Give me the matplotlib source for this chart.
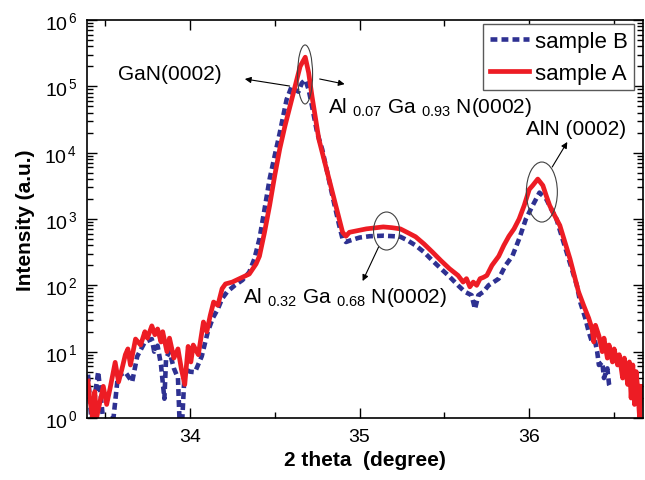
import matplotlib
matplotlib.use("Agg")
import matplotlib.pyplot as plt
from matplotlib.patches import Ellipse
from matplotlib.transforms import ScaledTranslation
from matplotlib.ticker import FixedLocator, LogLocator, NullFormatter, MultipleLocator

plt.rcParams['font.family'] = ['Liberation Sans', 'DejaVu Sans']
plt.rcParams['mathtext.fontset'] = 'custom'
plt.rcParams['mathtext.rm'] = 'Liberation Sans'
plt.rcParams['mathtext.it'] = 'Liberation Sans:italic'
plt.rcParams['mathtext.bf'] = 'Liberation Sans:bold'

# ---------------- data ----------------
x_A = [33.40, 33.41, 33.427, 33.44, 33.45, 33.49, 33.51, 33.53, 33.56, 33.58,
       33.60, 33.62, 33.635, 33.65, 33.68, 33.71, 33.735, 33.75, 33.776, 33.794,
       33.81, 33.83, 33.84, 33.865, 33.88, 33.906, 33.93, 33.95, 33.97, 33.99,
       34.006, 34.02, 34.05, 34.065, 34.08, 34.10, 34.12, 34.14, 34.165, 34.19,
       34.21, 34.25, 34.29, 34.35, 34.39, 34.41, 34.44, 34.47, 34.50, 34.53,
       34.56, 34.59, 34.62, 34.65, 34.68, 34.70, 34.72, 34.76, 34.80, 34.82,
       34.85, 34.88, 34.90, 34.92, 34.94, 34.98, 35.04, 35.10, 35.14, 35.19,
       35.24, 35.28, 35.33, 35.38, 35.43, 35.48, 35.53, 35.58, 35.61, 35.63,
       35.65, 35.67, 35.69, 35.71, 35.73, 35.75, 35.78, 35.82, 35.85, 35.88,
       35.91, 35.94, 35.97, 36.00, 36.02, 36.05, 36.08, 36.10, 36.12, 36.15,
       36.18, 36.21, 36.24, 36.27, 36.29, 36.32, 36.35, 36.37, 36.38, 36.39,
       36.41, 36.43, 36.44, 36.46, 36.47, 36.49, 36.50, 36.52, 36.53, 36.55,
       36.56, 36.58, 36.59, 36.60, 36.61, 36.62, 36.63, 36.64, 36.65, 36.66]
y_A = [3.6, 2.0, 1.0, 2.5, 1.0, 3.0, 1.6, 2.8, 6.9, 3.5,
       5.5, 9.0, 11.0, 6.3, 15.5, 12.6, 20.0, 16.0, 24.5, 18.0,
       22.0, 14.0, 20.0, 10.0, 16.0, 8.0, 11.0, 5.5, 3.2, 12.0,
       7.0, 12.6, 9.0, 16.0, 28.0, 20.0, 35.0, 56.0, 50.0, 89.0,
       105, 112, 125, 148, 210, 275, 630, 1600, 4500, 11500,
       25000, 50000, 100000, 200000, 275000, 160000, 70000, 16000, 6300, 4000,
       2000, 1000, 630, 550, 630, 660, 710, 740, 760, 740,
       710, 630, 540, 420, 316, 235, 178, 141, 112, 126,
       95, 112, 100, 126, 132, 141, 200, 275, 400, 550,
       710, 1000, 1600, 2800, 3200, 4000, 3200, 2240, 1600, 1120,
       800, 450, 250, 126, 80, 50, 32, 22, 14, 25,
       17.4, 10, 16, 8, 12.6, 7, 11, 6.3, 9, 4,
       8, 3.2, 7, 2, 6.3, 1.6, 5, 2.5, 1.0, 3.0]

x_B = [33.40, 33.42, 33.46, 33.49, 33.52, 33.55, 33.576, 33.62, 33.66, 33.69,
       33.735, 33.776, 33.79, 33.81, 33.83, 33.85, 33.86, 33.88, 33.906, 33.93,
       33.94, 33.95, 33.97, 34.00, 34.03, 34.07, 34.106, 34.135, 34.165, 34.19,
       34.22, 34.265, 34.31, 34.35, 34.38, 34.41, 34.44, 34.47, 34.50, 34.53,
       34.57, 34.60, 34.62, 34.64, 34.66, 34.68, 34.70, 34.72, 34.75, 34.78,
       34.81, 34.84, 34.88, 34.90, 34.92, 34.95, 35.00, 35.06, 35.14, 35.20,
       35.24, 35.28, 35.33, 35.38, 35.43, 35.48, 35.53, 35.58, 35.62, 35.66,
       35.68, 35.70, 35.73, 35.76, 35.79, 35.82, 35.86, 35.90, 35.94, 35.98,
       36.02, 36.06, 36.08, 36.10, 36.13, 36.16, 36.19, 36.22, 36.25, 36.28,
       36.30, 36.33, 36.35, 36.37, 36.38, 36.40, 36.41, 36.43, 36.44, 36.46,
       36.47, 36.48]
y_B = [4.5, 0.9, 5.0, 0.9, 0.95, 1.0, 4.3, 4.9, 3.5, 8.5,
       14.0, 15.5, 10.0, 12.3, 6.3, 1.95, 8.0, 10.0, 5.6, 4.0,
       0.8, 0.5, 5.5, 5.0, 4.9, 8.5, 20.0, 32.0, 44.0, 63.0,
       80, 100, 120, 158, 250, 500, 1400, 4000, 9000, 20000,
       63000, 100000, 89000, 83000, 112000, 126000, 89000, 50000, 20000, 11200,
       5000, 2240, 800, 500, 450, 480, 525, 550, 560, 550,
       540, 480, 400, 316, 235, 178, 135, 100, 80, 71,
       44, 71, 80, 100, 112, 126, 200, 275, 500, 1000,
       1600, 2500, 2240, 2000, 1400, 1000, 560, 316, 178, 100,
       56, 32, 20, 13.8, 17.8, 10, 6.3, 7, 4, 5.6,
       3.2, 2.8]

label_A = 'sample A'
label_B = 'sample B'
y_ticks = [1e0, 1e1, 1e2, 1e3, 1e4, 1e5, 1e6]
y_ticklabels = [r'$10^{\,%d}$' % k for k in range(7)]
x_ticks = [34, 35, 36]
x_ticklabels = ['34', '35', '36']

# ---------------- figure ----------------
W, H = 645, 481
fig = plt.figure(figsize=(W / 100, H / 100), dpi=100)
ax = fig.add_axes([87 / W, (H - 419) / H, (643 - 87) / W, (419 - 21) / H])

blue = '#2e3192'
red = '#ed1c24'
ax.plot(x_B, y_B, color=blue, lw=3.3, linestyle=(0, (1.5, 0.9)), label=label_B,
        dash_capstyle='butt')
ax.plot(x_A, y_A, color=red, lw=3.4, label=label_A)

ax.set_yscale('log')
ax.set_xlim(33.394, 36.67)
ax.set_ylim(1, 1e6)

ax.yaxis.set_major_locator(FixedLocator(y_ticks))
ax.set_yticklabels(y_ticklabels)
ax.yaxis.set_minor_locator(LogLocator(base=10, subs=range(2, 10), numticks=20))
ax.yaxis.set_minor_formatter(NullFormatter())
ax.xaxis.set_major_locator(FixedLocator(x_ticks))
ax.set_xticklabels(x_ticklabels)
ax.xaxis.set_minor_locator(MultipleLocator(0.5))

ax.tick_params(which='both', direction='in', top=True, right=True, width=1.0)
ax.tick_params(which='major', length=7, labelsize=14, pad=7)
ax.tick_params(which='minor', length=4)
for s in ax.spines.values():
    s.set_linewidth(1.2)

ax.set_xlabel('2 theta  (degree)', fontsize=15, fontweight='bold', labelpad=4)
ax.set_ylabel('Intensity (a.u.)', fontsize=15, fontweight='bold', labelpad=7)

leg = ax.legend(loc='upper right', bbox_to_anchor=(0.984, 0.99), fontsize=16,
                frameon=True, fancybox=False, framealpha=1, edgecolor='0.35',
                handlelength=1.75, handletextpad=0.25, labelspacing=0.5,
                borderpad=0.3, borderaxespad=0)
leg.get_frame().set_linewidth(1.0)

# ---------------- annotations ----------------
def ellipse(xc, yc, w_px, h_px):
    tr = fig.dpi_scale_trans + ScaledTranslation(xc, yc, ax.transData)
    e = Ellipse((0, 0), w_px / 100, h_px / 100, transform=tr, fill=False,
                edgecolor='0.25', lw=0.8, zorder=5)
    ax.add_artist(e)

def arrow(tail, head):
    ax.annotate('', xy=head, xytext=tail,
                arrowprops=dict(arrowstyle='-|>', lw=0.8, color='k',
                                mutation_scale=9, shrinkA=0, shrinkB=0), zorder=5)

ellipse(34.679, 1.51e5, 15, 59)
ellipse(35.159, 659, 26, 38)
ellipse(36.074, 2550, 31, 60)

arrow((34.588, 1.01e5), (34.324, 1.29e5))
arrow((34.765, 1.29e5), (34.912, 1.08e5))
arrow((36.135, 6080), (36.224, 14500))
arrow((35.112, 378), (35.018, 116))

ax.text(33.576, 1.29e5, 'GaN(0002)', fontsize=15, ha='left', va='baseline')
ax.text(34.812, 4.1e4, r'Al $_{0.07}$ Ga $_{0.93}$ N(0002)', fontsize=15,
        ha='left', va='baseline')
ax.text(35.982, 1.91e4, 'AlN (0002)', fontsize=15, ha='left', va='baseline')
ax.text(34.312, 56, r'Al $_{0.32}$ Ga $_{0.68}$ N(0002)', fontsize=15,
        ha='left', va='baseline')

fig.savefig('out.png', dpi=100)
